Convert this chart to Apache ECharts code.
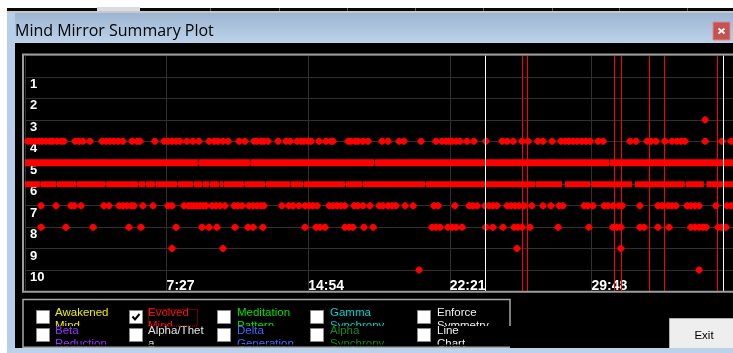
<!DOCTYPE html>
<html>
<head>
<meta charset="utf-8">
<title>Mind Mirror Summary Plot</title>
<script src="https://cdn.jsdelivr.net/npm/echarts@6/dist/echarts.min.js"></script>
<style>
  html, body { margin: 0; padding: 0; background: #ffffff; }
  #chart { width: 733px; height: 353px; }
</style>
</head>
<body>
<div id="chart"></div>
<script>
// Session length and the time-label step, both in seconds
const sessionSeconds = 2235;
const tickStepSeconds = 447;

// Pattern hits per level, in seconds from the start of the session
const level3Times = [2147];
const level4Times = [9, 19, 32, 44, 54, 66, 79, 88, 101, 114, 123, 158, 170, 183, 205, 243, 256, 268, 281, 294, 309,
  338, 354, 363, 410, 439, 451, 464, 477, 489, 511, 530, 549, 581, 597, 609, 625, 641, 676, 694, 723, 732, 745, 754,
  767, 799, 824, 837, 859, 871, 881, 893, 903, 928, 950, 966, 972, 1020, 1029, 1042, 1051, 1067, 1083, 1127, 1146,
  1181, 1196, 1250, 1297, 1316, 1329, 1338, 1348, 1361, 1373, 1395, 1417, 1455, 1506, 1522, 1541, 1569, 1588, 1619,
  1635, 1664, 1692, 1705, 1717, 1730, 1743, 1758, 1771, 1784, 1809, 1825, 1910, 1929, 1964, 1976, 1992, 2020, 2042,
  2058, 2071, 2083, 2147, 2200, 2229];
const level7Times = [51, 98, 145, 155, 177, 249, 265, 297, 309, 322, 335, 344, 372, 404, 451, 464, 502, 515, 524, 533,
  543, 552, 562, 571, 590, 603, 616, 631, 660, 672, 685, 707, 720, 732, 745, 754, 811, 833, 846, 865, 884, 897, 909,
  922, 960, 972, 985, 998, 1010, 1039, 1051, 1067, 1089, 1118, 1130, 1146, 1159, 1171, 1200, 1225, 1291, 1304, 1357,
  1402, 1414, 1427, 1452, 1465, 1477, 1490, 1522, 1534, 1547, 1559, 1575, 1600, 1635, 1660, 1686, 1698, 1765, 1777,
  1793, 1828, 1840, 1856, 1875, 1885, 1941, 1998, 2011, 2030, 2042, 2055, 2090, 2102, 2115, 2128, 2181, 2216, 2229];
const level8Times = [51, 129, 215, 328, 366, 477, 559, 581, 606, 663, 704, 720, 751, 884, 919, 931, 947, 1010, 1023,
  1035, 1070, 1099, 1285, 1297, 1310, 1335, 1348, 1361, 1380, 1455, 1477, 1509, 1544, 1556, 1569, 1594, 1683, 1780,
  1856, 1869, 1881, 1941, 1954, 1998, 2033, 2102, 2115, 2128, 2140, 2150, 2188, 2200, 2213];
const level9Times = [464, 625, 1553, 1881];
const level10Times = [1244, 2128];

// Levels 5 and 6 fire almost continuously: stretches of back-to-back hits [start, end]
const level5Runs = [[0, 546], [548, 710], [712, 1102], [1104, 1844], [1846, 2235]];
const level6Runs = [[0, 47], [49, 98], [100, 161], [163, 254], [256, 358], [360, 379], [381, 410], [412, 480],
  [482, 531], [533, 559], [561, 581], [583, 612], [614, 625], [627, 691], [693, 758], [760, 837], [839, 878],
  [880, 1010], [1012, 1064], [1066, 1263], [1265, 1610], [1612, 1695], [1704, 1784], [1787, 1916], [1925, 2083],
  [2086, 2143], [2151, 2235]];

// Event markers
const redMarkerTimes = [1569, 1586, 1860, 1881, 1969, 2018, 2184, 2202];
const whiteMarkerTimes = [1452, 2204];

// Option check boxes, top row and bottom row of each column
const topRowLabels = ['Awakened\nMind', 'Evolved\nMind', 'Meditation\nPattern', 'Gamma\nSynchrony', 'Enforce\nSymmetry'];
const bottomRowLabels = ['Beta\nReduction', 'Alpha/Thet\na', 'Delta\nGeneration', 'Alpha\nSynchrony', 'Line\nChart'];
const topRowChecked = [false, true, false, false, false];
const bottomRowChecked = [false, false, false, false, false];

// ---------------------------------------------------------------------------
const topRowColors = ['#eeee00', '#ff1010', '#00e000', '#00d0d0', '#f0f0f0'];
const bottomRowColors = ['#9a32ff', '#e6e6e6', '#3f6bff', '#188a18', '#f0f0f0'];
const boxX = [36.5, 129.5, 217.5, 310.5, 417.5];
const textX = [55, 148, 237, 330, 437];

function clock(sec) {
  const m = Math.floor(sec / 60);
  const s = Math.round(sec % 60);
  return m + ':' + (s < 10 ? '0' : '') + s;
}

const dotPath = 'path://M2.5,0L4.5,0L7,2.5L7,4.5L4.5,7L2.5,7L0,4.5L0,2.5Z';
const levelTimes = [[3, level3Times], [4, level4Times], [7, level7Times], [8, level8Times], [9, level9Times], [10, level10Times]];
const dots = [];
levelTimes.forEach(([lvl, times]) => times.forEach(t => dots.push([t, lvl])));

function runSeries(runs, level, thickness) {
  return {
    type: 'custom',
    silent: true,
    z: 2,
    data: runs.map(r => [r[0], r[1], level]),
    encode: { x: [0, 1], y: 2 },
    renderItem: function (params, api) {
      const a = api.coord([api.value(0), api.value(2)]);
      const b = api.coord([api.value(1), api.value(2)]);
      return {
        type: 'rect',
        shape: { x: a[0], y: a[1] - thickness / 2, width: b[0] - a[0], height: thickness },
        style: { fill: '#ff0000' }
      };
    }
  };
}

function markerSeries(times, color) {
  return {
    type: 'custom',
    silent: true,
    z: 4,
    data: times.map(t => [t, 0]),
    encode: { x: 0, y: 1 },
    renderItem: function (params, api) {
      const x = Math.round(api.coord([api.value(0), 0])[0]) + 0.5;
      const top = api.coord([0, 0])[1];
      const bottom = api.coord([0, 11])[1];
      return {
        type: 'line',
        shape: { x1: x, y1: top, x2: x, y2: bottom },
        style: { stroke: color, lineWidth: 1 }
      };
    }
  };
}

// Window frame, option panel and buttons
const Z = 100;
const g = [];
function rect(x, y, w, h, style) { g.push({ type: 'rect', z: Z, shape: { x, y, width: w, height: h }, style }); }
function text(x, y, str, style) {
  g.push({ type: 'text', z: Z, x, y, style: Object.assign({ text: str }, style) });
}

// desktop and the window behind
rect(0, 0, 733, 8, { fill: '#ffffff' });
rect(0, 0, 7, 353, { fill: '#ffffff' });
rect(7, 8, 726, 3, { fill: '#080808' });
[210, 279, 347, 415, 483, 552, 619, 687].forEach(x => rect(x, 8, 1, 3, { fill: '#5a5a5a' }));
rect(97, 7, 43, 4, { fill: '#d9dde3' });
// title bar
rect(7, 11, 726, 2, { fill: '#c8c8c8' });
rect(7, 13, 726, 30, {
  fill: new echarts.graphic.LinearGradient(0, 0, 0, 1, [
    { offset: 0, color: '#9db5d1' }, { offset: 1, color: '#bcd3eb' }
  ])
});
text(15, 31.5, 'Mind Mirror Summary Plot', {
  fill: '#000000', font: '16px "Open Sans"', align: 'left', verticalAlign: 'middle'
});
rect(713, 22, 17, 18, { fill: '#c75050', stroke: '#d88c8c', lineWidth: 1 });
g.push({ type: 'line', z: Z, shape: { x1: 718.5, y1: 28.5, x2: 724.5, y2: 33.5 }, style: { stroke: '#ffffff', lineWidth: 1.8 } });
g.push({ type: 'line', z: Z, shape: { x1: 724.5, y1: 28.5, x2: 718.5, y2: 33.5 }, style: { stroke: '#ffffff', lineWidth: 1.8 } });
// left frame
rect(7, 13, 8, 340, { fill: '#b7cfe9' });

// plot border
g.push({ type: 'rect', z: Z, shape: { x: 23, y: 54.5, width: 720, height: 237.3 },
  style: { fill: null, stroke: '#9c9c9c', lineWidth: 2 } });

// option panel
g.push({ type: 'rect', z: Z, shape: { x: 23, y: 299.5, width: 487, height: 60 },
  style: { fill: '#000000', stroke: '#a6a6a6', lineWidth: 1.5 } });
for (let i = 0; i < 5; i++) {
  // top row
  text(textX[i], 306.5, topRowLabels[i], {
    fill: topRowColors[i], font: '11.5px "Liberation Sans"', lineHeight: 13, align: 'left', verticalAlign: 'top'
  });
  // bottom row label area hides the overflow of the top row
  rect(textX[i] - 2, 326, 76, 24, { fill: '#000000' });
  text(textX[i], 324, bottomRowLabels[i], {
    fill: bottomRowColors[i], font: '11.5px "Liberation Sans"', lineHeight: 13, align: 'left', verticalAlign: 'top'
  });
  [[310.5, topRowChecked[i]], [328.5, bottomRowChecked[i]]].forEach(([by, on]) => {
    rect(boxX[i], by, 13, 13, { fill: '#ffffff', stroke: '#8a8a8a', lineWidth: 1 });
    if (on) {
      g.push({ type: 'polyline', z: Z, shape: { points: [[boxX[i] + 3, by + 6], [boxX[i] + 5.5, by + 9], [boxX[i] + 10, by + 3.5]] },
        style: { fill: null, stroke: '#000000', lineWidth: 2 } });
    }
  });
}
// panel bottom edge clips the second line of the bottom row
rect(24, 344.5, 485, 2, { fill: '#000000' });
rect(23, 346.5, 487, 1.5, { fill: '#a6a6a6' });
// keyboard focus on the checked option
g.push({ type: 'rect', z: Z, shape: { x: 148.5, y: 309.5, width: 49, height: 16.5 },
  style: { fill: null, stroke: '#d00000', lineWidth: 1, lineDash: [1, 1] } });

// Exit button
rect(669.5, 318.5, 70, 32, { fill: '#eeeeee', stroke: '#adadad', lineWidth: 1 });
text(704, 336, 'Exit', { fill: '#000000', font: '11.5px "Liberation Sans"', align: 'center', verticalAlign: 'middle' });

// bottom frame
rect(7, 348, 726, 5, { fill: '#bad2ea' });

const chart = echarts.init(document.getElementById('chart'), null, { renderer: 'canvas' });
chart.setOption({
  animation: false,
  backgroundColor: '#000000',
  grid: { left: 25, right: 0, top: 55.5, bottom: 61.5, outerBoundsMode: 'none', containLabel: false },
  xAxis: {
    type: 'value',
    min: 0,
    max: sessionSeconds,
    interval: tickStepSeconds,
    axisLine: { show: false },
    axisTick: { show: false },
    splitLine: { show: true, lineStyle: { color: '#303030', width: 1 } },
    axisLabel: {
      inside: true,
      margin: 5,
      align: 'left',
      verticalAlign: 'middle',
      color: '#ffffff',
      fontFamily: 'Liberation Sans',
      fontWeight: 'bold',
      fontSize: 14,
      formatter: v => (v > 0 && v < sessionSeconds ? clock(v) : '')
    }
  },
  yAxis: {
    type: 'value',
    inverse: true,
    min: 0,
    max: 11,
    interval: 1,
    axisLine: { show: false },
    axisTick: { show: false },
    splitLine: { show: true, lineStyle: { color: '#303030', width: 1 } },
    axisLabel: {
      inside: true,
      margin: 5,
      align: 'left',
      verticalAlign: 'top',
      lineHeight: 15,
      color: '#ffffff',
      fontFamily: 'Liberation Sans',
      fontWeight: 'bold',
      fontSize: 13,
      formatter: v => (v >= 1 && v <= 10 ? String(v) : '')
    }
  },
  series: [
    runSeries(level5Runs, 5, 7),
    runSeries(level6Runs, 6, 6),
    {
      type: 'scatter',
      silent: true,
      z: 3,
      symbol: dotPath,
      symbolSize: 7,
      itemStyle: { color: '#ff0000', opacity: 1 },
      data: dots
    },
    markerSeries(redMarkerTimes, '#ff0000'),
    markerSeries(whiteMarkerTimes, '#ffffff')
  ],
  graphic: { elements: g }
});
</script>
</body>
</html>
